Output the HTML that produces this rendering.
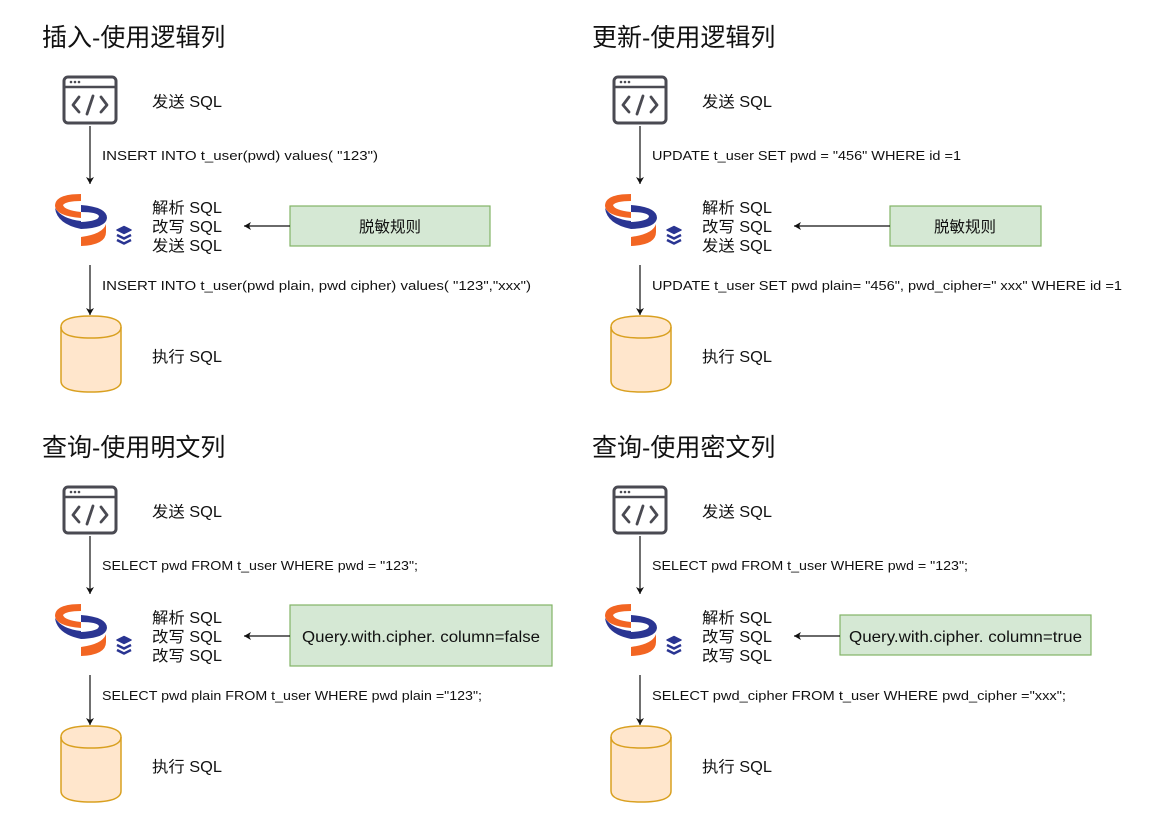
<!DOCTYPE html>
<html><head><meta charset="utf-8"><style>
html,body{margin:0;padding:0;background:#fff;}
svg{display:block;font-family:"Liberation Sans","Noto Sans CJK SC",sans-serif;}
.t{font-size:25px;fill:#111;}
.l{font-size:15.5px;fill:#111;}
.s{font-size:13px;fill:#111;}
.g{font-size:15.5px;fill:#111;}
</style></head><body>
<svg width="1169" height="827" viewBox="0 0 1169 827" xmlns="http://www.w3.org/2000/svg">
<defs>
<marker id="ah" markerWidth="10" markerHeight="10" refX="8" refY="5" orient="auto" markerUnits="userSpaceOnUse">
<path d="M1,1 L8,5 L1,9 L3,5 Z" fill="#111"/></marker>
<g id="icon">
<rect x="64" y="77" width="52" height="46" rx="4" fill="none" stroke="#4a4a52" stroke-width="3"/>
<line x1="64" y1="87" x2="116" y2="87" stroke="#4a4a52" stroke-width="2.5"/>
<circle cx="71" cy="82" r="1.3" fill="#4a4a52"/><circle cx="75" cy="82" r="1.3" fill="#4a4a52"/><circle cx="79" cy="82" r="1.3" fill="#4a4a52"/>
<path d="M79 97 L73 105 L79 112 M101 97 L107 105 L101 112 M93 96 L87 114" fill="none" stroke="#4a4a52" stroke-width="2.8" stroke-linecap="round" stroke-linejoin="round"/>
</g>
<g id="logo">
<path d="M81 194 Q55 194 55 206 Q56 216 81 218 L81 212 Q64 210 63 205 Q66 201 81 201 Z" fill="#f26522"/>
<path d="M81 205 Q107 207 107 218 Q106 228 81 229 L81 222 Q99 221 99 216 Q97 212 81 212 Z" fill="#2a3592"/>
<path d="M55 208 Q57 224 81 229 L81 221 Q62 219 55 208 Z" fill="#2a3592"/>
<path d="M81 246 Q106 245 106 232 L106 224 Q103 234 81 237 Z" fill="#f26522"/>
<g fill="#2a3592" stroke="#2a3592" stroke-width="1.5" stroke-linejoin="round">
<path d="M117 230 L124 226.5 L131 230 L124 233.5 Z"/>
<path d="M117 235 L124 238.5 L131 235" fill="none" stroke-width="2.5"/>
<path d="M117 240 L124 243.5 L131 240" fill="none" stroke-width="2.5"/>
</g>
</g>
<g id="cyl">
<path d="M61 327 Q61 316 91 316 Q121 316 121 327 L121 381 Q121 392 91 392 Q61 392 61 381 Z" fill="#ffe6cc" stroke="#d9a020" stroke-width="1.5"/>
<path d="M61 327 Q61 338 91 338 Q121 338 121 327" fill="none" stroke="#d9a020" stroke-width="1.5"/>
</g>
<g id="base">
<use href="#icon"/><use href="#logo"/><use href="#cyl"/>
<text class="l" x="152" y="107" textLength="70" lengthAdjust="spacingAndGlyphs">发送 SQL</text>
<text class="l" x="152" y="362" textLength="70" lengthAdjust="spacingAndGlyphs">执行 SQL</text>
<line x1="90" y1="126" x2="90" y2="184" stroke="#111" stroke-width="1.2" marker-end="url(#ah)"/>
<line x1="90" y1="265" x2="90" y2="315" stroke="#111" stroke-width="1.2" marker-end="url(#ah)"/>
</g>
<g id="three">
<text class="l" x="152" y="213" textLength="70" lengthAdjust="spacingAndGlyphs">解析 SQL</text>
<text class="l" x="152" y="232" textLength="70" lengthAdjust="spacingAndGlyphs">改写 SQL</text>
</g>
</defs>

<!-- Panel 1 -->
<text class="t" x="42" y="46">插入-使用逻辑列</text>
<use href="#base"/><use href="#three"/>
<text class="s" x="102" y="160" textLength="276" lengthAdjust="spacingAndGlyphs">INSERT INTO t_user(pwd) values( "123")</text>
<text class="l" x="152" y="251" textLength="70" lengthAdjust="spacingAndGlyphs">发送 SQL</text>
<rect x="290" y="206" width="200" height="40" fill="#d5e8d4" stroke="#82b366" stroke-width="1.2"/>
<text class="g" x="390" y="232" text-anchor="middle">脱敏规则</text>
<line x1="290" y1="226" x2="244" y2="226" stroke="#111" stroke-width="1.2" marker-end="url(#ah)"/>
<text class="s" x="102" y="290" textLength="429" lengthAdjust="spacingAndGlyphs">INSERT INTO t_user(pwd plain, pwd cipher) values( "123","xxx")</text>

<!-- Panel 2 -->
<g transform="translate(550,0)">
<text class="t" x="42" y="46">更新-使用逻辑列</text>
<use href="#base"/><use href="#three"/>
<text class="s" x="102" y="160" textLength="309" lengthAdjust="spacingAndGlyphs">UPDATE t_user SET pwd = "456" WHERE id =1</text>
<text class="l" x="152" y="251" textLength="70" lengthAdjust="spacingAndGlyphs">发送 SQL</text>
<rect x="340" y="206" width="151" height="40" fill="#d5e8d4" stroke="#82b366" stroke-width="1.2"/>
<text class="g" x="415" y="232" text-anchor="middle">脱敏规则</text>
<line x1="340" y1="226" x2="244" y2="226" stroke="#111" stroke-width="1.2" marker-end="url(#ah)"/>
<text class="s" x="102" y="290" textLength="470" lengthAdjust="spacingAndGlyphs">UPDATE t_user SET pwd plain= "456", pwd_cipher=" xxx" WHERE id =1</text>
</g>

<!-- Panel 3 -->
<g transform="translate(0,410)">
<text class="t" x="42" y="46">查询-使用明文列</text>
<use href="#base"/><use href="#three"/>
<text class="s" x="102" y="160" textLength="316" lengthAdjust="spacingAndGlyphs">SELECT pwd FROM t_user WHERE pwd = "123";</text>
<text class="l" x="152" y="251" textLength="70" lengthAdjust="spacingAndGlyphs">改写 SQL</text>
<rect x="290" y="195" width="262" height="61" fill="#d5e8d4" stroke="#82b366" stroke-width="1.2"/>
<text class="g" x="302" y="232" textLength="238" lengthAdjust="spacingAndGlyphs">Query.with.cipher. column=false</text>
<line x1="290" y1="226" x2="244" y2="226" stroke="#111" stroke-width="1.2" marker-end="url(#ah)"/>
<text class="s" x="102" y="290" textLength="380" lengthAdjust="spacingAndGlyphs">SELECT pwd plain FROM t_user WHERE pwd plain ="123";</text>
</g>

<!-- Panel 4 -->
<g transform="translate(550,410)">
<text class="t" x="42" y="46">查询-使用密文列</text>
<use href="#base"/><use href="#three"/>
<text class="s" x="102" y="160" textLength="316" lengthAdjust="spacingAndGlyphs">SELECT pwd FROM t_user WHERE pwd = "123";</text>
<text class="l" x="152" y="251" textLength="70" lengthAdjust="spacingAndGlyphs">改写 SQL</text>
<rect x="290" y="205" width="251" height="40" fill="#d5e8d4" stroke="#82b366" stroke-width="1.2"/>
<text class="g" x="299" y="232" textLength="233" lengthAdjust="spacingAndGlyphs">Query.with.cipher. column=true</text>
<line x1="290" y1="226" x2="244" y2="226" stroke="#111" stroke-width="1.2" marker-end="url(#ah)"/>
<text class="s" x="102" y="290" textLength="414" lengthAdjust="spacingAndGlyphs">SELECT pwd_cipher FROM t_user WHERE pwd_cipher ="xxx";</text>
</g>
</svg>
</body></html>
